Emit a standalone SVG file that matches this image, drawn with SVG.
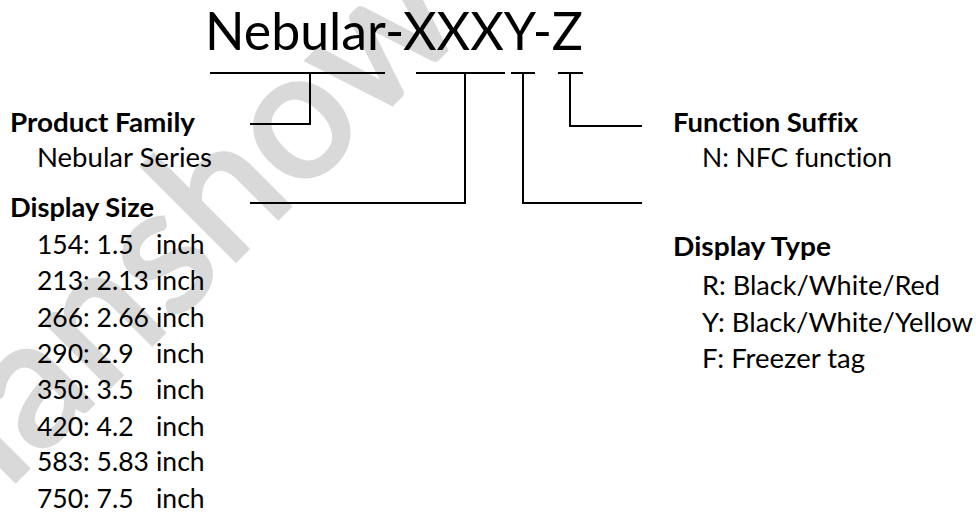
<svg xmlns="http://www.w3.org/2000/svg" width="976" height="513" viewBox="0 0 976 513">
<style>
text{font-family:Lato,"Liberation Sans",sans-serif;fill:#000;font-variant-ligatures:none}
.h{font-size:26.5px;font-weight:bold}
.b{font-size:26.5px}
.t{font-size:51.6px}
.wm{font-size:180px;fill:#d9d9d9;stroke:#d9d9d9;stroke-width:4}
.c{fill:none;stroke:#000;stroke-width:2}
</style>
<rect width="976" height="513" fill="#fff"/>
<text class="wm" transform="translate(-57.6,554) rotate(-45)">Hanshow</text>
<g id="title"><text class="t" x="205" y="50" textLength="378" lengthAdjust="spacingAndGlyphs">Nebular-XXXY-Z</text></g>
<g id="connectors">
<line class="c" x1="210" y1="73" x2="385" y2="73"/>
<line class="c" x1="416" y1="73" x2="505" y2="73"/>
<line class="c" x1="511" y1="73" x2="535" y2="73"/>
<line class="c" x1="558" y1="73" x2="583" y2="73"/>
<polyline class="c" points="310,73 310,124 250,124"/>
<polyline class="c" points="465,73 465,203 250,203"/>
<polyline class="c" points="523,73 523,203 642,203"/>
<polyline class="c" points="570,73 570,126 642,126"/>
</g>
<g id="product-family">
<text class="h" x="10" y="132" textLength="185" lengthAdjust="spacingAndGlyphs">Product Family</text>
<text class="b" x="37" y="167" textLength="175" lengthAdjust="spacingAndGlyphs">Nebular Series</text>
</g>
<g id="display-size">
<text class="h" x="10" y="217" textLength="144" lengthAdjust="spacingAndGlyphs">Display Size</text>
<text class="b" x="37" y="253.5">154: 1.5<tspan x="156">inch</tspan></text>
<text class="b" x="37" y="290">213: 2.13<tspan x="156">inch</tspan></text>
<text class="b" x="37" y="326.5">266: 2.66<tspan x="156">inch</tspan></text>
<text class="b" x="37" y="363">290: 2.9<tspan x="156">inch</tspan></text>
<text class="b" x="37" y="399">350: 3.5<tspan x="156">inch</tspan></text>
<text class="b" x="37" y="435.5">420: 4.2<tspan x="156">inch</tspan></text>
<text class="b" x="37" y="471">583: 5.83<tspan x="156">inch</tspan></text>
<text class="b" x="37" y="507.5">750: 7.5<tspan x="156">inch</tspan></text>
</g>
<g id="function-suffix">
<text class="h" x="673" y="132" textLength="185" lengthAdjust="spacingAndGlyphs">Function Suffix</text>
<text class="b" x="702" y="167" textLength="190" lengthAdjust="spacingAndGlyphs">N: NFC function</text>
</g>
<g id="display-type">
<text class="h" x="673" y="256" textLength="158" lengthAdjust="spacingAndGlyphs">Display Type</text>
<text class="b" x="702" y="295" textLength="238" lengthAdjust="spacingAndGlyphs">R: Black/White/Red</text>
<text class="b" x="702" y="331.5" textLength="271" lengthAdjust="spacingAndGlyphs">Y: Black/White/Yellow</text>
<text class="b" x="702" y="368" textLength="163" lengthAdjust="spacingAndGlyphs">F: Freezer tag</text>
</g>
</svg>
